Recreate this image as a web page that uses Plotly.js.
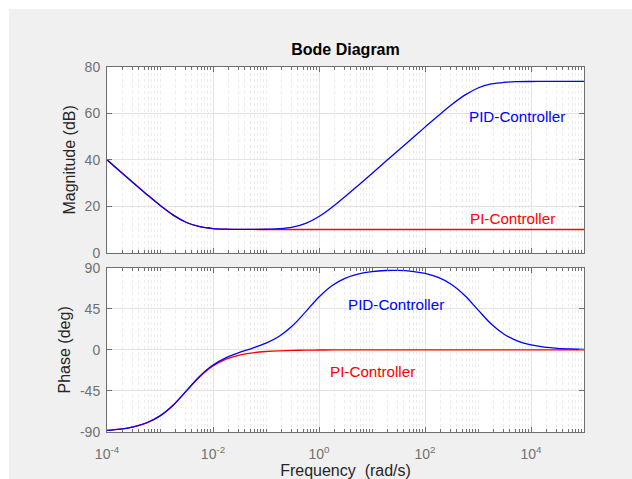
<!DOCTYPE html>
<html>
<head>
<meta charset="utf-8">
<script src="https://cdn.plot.ly/plotly-3.0.1.min.js"></script>
<style>
html,body{margin:0;padding:0;background:#ffffff;}
#chart{position:absolute;left:9px;top:9px;width:623px;height:470px;}
</style>
</head>
<body>
<div id="chart"></div>
<script>
// Frequencies (rad/s), quarter-decade points from 1e-4 to 1e5
const freq = [1e-4, 1.778e-4, 3.162e-4, 5.623e-4,
  1e-3, 1.778e-3, 3.162e-3, 5.623e-3,
  1e-2, 1.778e-2, 3.162e-2, 5.623e-2,
  1e-1, 1.778e-1, 3.162e-1, 5.623e-1,
  1, 1.778, 3.162, 5.623,
  10, 17.78, 31.62, 56.23,
  100, 177.8, 316.2, 562.3,
  1000, 1778, 3162, 5623,
  1e4, 1.778e4, 3.162e4, 5.623e4, 1e5];

// Magnitude (dB)
const piMag = [40.00, 35.01, 30.04, 25.13, 20.41, 16.19, 13.01, 11.19,
  10.41, 10.14, 10.04, 10.01, 10.00, 10.00, 10.00, 10.00,
  10.00, 10.00, 10.00, 10.00, 10.00, 10.00, 10.00, 10.00,
  10.00, 10.00, 10.00, 10.00, 10.00, 10.00, 10.00, 10.00,
  10.00, 10.00, 10.00, 10.00, 10.00];
const pidMag = [40.00, 35.01, 30.04, 25.13, 20.41, 16.19, 13.01, 11.19,
  10.41, 10.14, 10.05, 10.05, 10.11, 10.34, 11.00, 12.61,
  15.57, 19.65, 24.32, 29.20, 34.17, 39.16, 44.15, 49.14,
  54.10, 59.00, 63.70, 67.87, 70.96, 72.69, 73.42, 73.68,
  73.76, 73.79, 73.80, 73.80, 73.80];

// Phase (deg)
const piPhase = [-88.19, -86.78, -84.29, -79.92, -72.45, -60.64, -45.00, -29.36,
  -17.55, -10.08, -5.71, -3.22, -1.81, -1.02, -0.57, -0.32,
  -0.18, -0.10, -0.06, -0.03, -0.02, -0.01, -0.01, 0,
  0, 0, 0, 0, 0, 0, 0, 0,
  0, 0, 0, 0, 0];
const pidPhase = [-88.18, -86.76, -84.26, -79.87, -72.36, -60.48, -44.71, -28.84,
  -16.63, -8.44, -2.79, 1.96, 7.35, 14.98, 26.45, 41.85,
  57.96, 70.57, 78.66, 83.34, 85.83, 86.93, 87.00, 86.02,
  83.70, 79.31, 71.67, 59.59, 43.81, 28.36, 16.89, 9.68,
  5.48, 3.08, 1.74, 0.98, 0.55];

// Tick labels
const xTickVals = [1e-4, 1e-2, 1, 1e2, 1e4];
const xTickText = ['10<sup>-4</sup>', '10<sup>-2</sup>', '10<sup>0</sup>', '10<sup>2</sup>', '10<sup>4</sup>'];
const magTickVals = [0, 20, 40, 60, 80];
const magTickText = ['0', '20', '40', '60', '80'];
const phaseTickVals = [-90, -45, 0, 45, 90];
const phaseTickText = ['-90', '-45', '0', '45', '90'];
const seriesNames = ['PI-Controller', 'PID-Controller'];

// minor ticks (2..9 x each decade, plus odd decades)
const minorVals = [];
for (let e = -4; e < 5; e++) {
  for (let m = 2; m <= 9; m++) minorVals.push(m * Math.pow(10, e));
  if (e % 2 !== 0) minorVals.push(Math.pow(10, e));
}

const FAM = 'Liberation Sans, Arial, sans-serif';
const axCol = '#6e6e6e';
const tickFont = {family: FAM, size: 14, color: '#707070'};
const titleFont = {family: FAM, size: 16, color: '#262626'};

function xAxis(anchor, labels) {
  return {
    type: 'log', range: [-4, 5], anchor: anchor, domain: [0, 1],
    tickmode: 'array', tickvals: xTickVals, ticktext: xTickText,
    showticklabels: labels, ticks: 'inside', ticklen: 5, tickcolor: axCol,
    showline: true, linecolor: axCol, linewidth: 1, mirror: 'ticks',
    showgrid: true, gridcolor: '#e3e3e3', gridwidth: 1, zeroline: false,
    tickfont: tickFont, ticklabelstandoff: 9,
    minor: {tickmode: 'array', tickvals: minorVals, ticks: 'inside', ticklen: 3,
      tickcolor: axCol, showgrid: true, gridcolor: '#ececec', griddash: 'dot', gridwidth: 1}
  };
}
function yAxis(anchor, domain, range, vals, text, title) {
  return {
    anchor: anchor, domain: domain, range: range,
    tickmode: 'array', tickvals: vals, ticktext: text,
    ticks: 'inside', ticklen: 5, tickcolor: axCol,
    showline: true, linecolor: axCol, linewidth: 1, mirror: 'ticks',
    showgrid: true, gridcolor: '#e3e3e3', gridwidth: 1, zeroline: false,
    tickfont: tickFont, ticklabelstandoff: 3,
    title: {text: title, font: titleFont, standoff: 5}
  };
}

const traces = [
  {x: freq, y: piMag, xaxis: 'x', yaxis: 'y', mode: 'lines', name: seriesNames[0],
   line: {color: '#ff0000', width: 1.3, shape: 'spline'}},
  {x: freq, y: pidMag, xaxis: 'x', yaxis: 'y', mode: 'lines', name: seriesNames[1],
   line: {color: '#0000ff', width: 1.3, shape: 'spline'}},
  {x: freq, y: piPhase, xaxis: 'x2', yaxis: 'y2', mode: 'lines', name: seriesNames[0],
   line: {color: '#ff0000', width: 1.3, shape: 'spline'}},
  {x: freq, y: pidPhase, xaxis: 'x2', yaxis: 'y2', mode: 'lines', name: seriesNames[1],
   line: {color: '#0000ff', width: 1.3, shape: 'spline'}}
];

const x2 = xAxis('y2', true);
x2.matches = 'x';
x2.title = {text: 'Frequency\u00a0 (rad/s)', font: titleFont, standoff: 6};

const annFont = (c) => ({family: FAM, size: 15.2, color: c});
const layout = {
  width: 623, height: 470,
  paper_bgcolor: '#f0f0f0', plot_bgcolor: '#ffffff',
  margin: {l: 98, r: 48, t: 58, b: 47},
  showlegend: false,
  font: {family: FAM},
  title: {text: '<b>Bode Diagram</b>', font: {family: FAM, size: 16, color: '#000000'},
    xref: 'paper', x: 0.5, xanchor: 'center', yref: 'container', y: 0.914, yanchor: 'middle'},
  xaxis: xAxis('y', false),
  xaxis2: x2,
  yaxis: yAxis('x', [0.4912, 1], [0, 80], magTickVals, magTickText, 'Magnitude (dB)'),
  yaxis2: yAxis('x2', [0, 0.4501], [-90, 90], phaseTickVals, phaseTickText, 'Phase (deg)'),
  annotations: [
    {xref: 'x', yref: 'y', x: 3.74, y: 58.5, text: seriesNames[1], showarrow: false, font: annFont('#0000ff')},
    {xref: 'x', yref: 'y', x: 3.655, y: 14.8, text: seriesNames[0], showarrow: false, font: annFont('#ff0000')},
    {xref: 'x2', yref: 'y2', x: 1.45, y: 50.2, text: seriesNames[1], showarrow: false, font: annFont('#0000ff')},
    {xref: 'x2', yref: 'y2', x: 1.013, y: -23.4, text: seriesNames[0], showarrow: false, font: annFont('#ff0000')}
  ]
};

Plotly.newPlot('chart', traces, layout, {displayModeBar: false, staticPlot: true});
</script>
</body>
</html>
